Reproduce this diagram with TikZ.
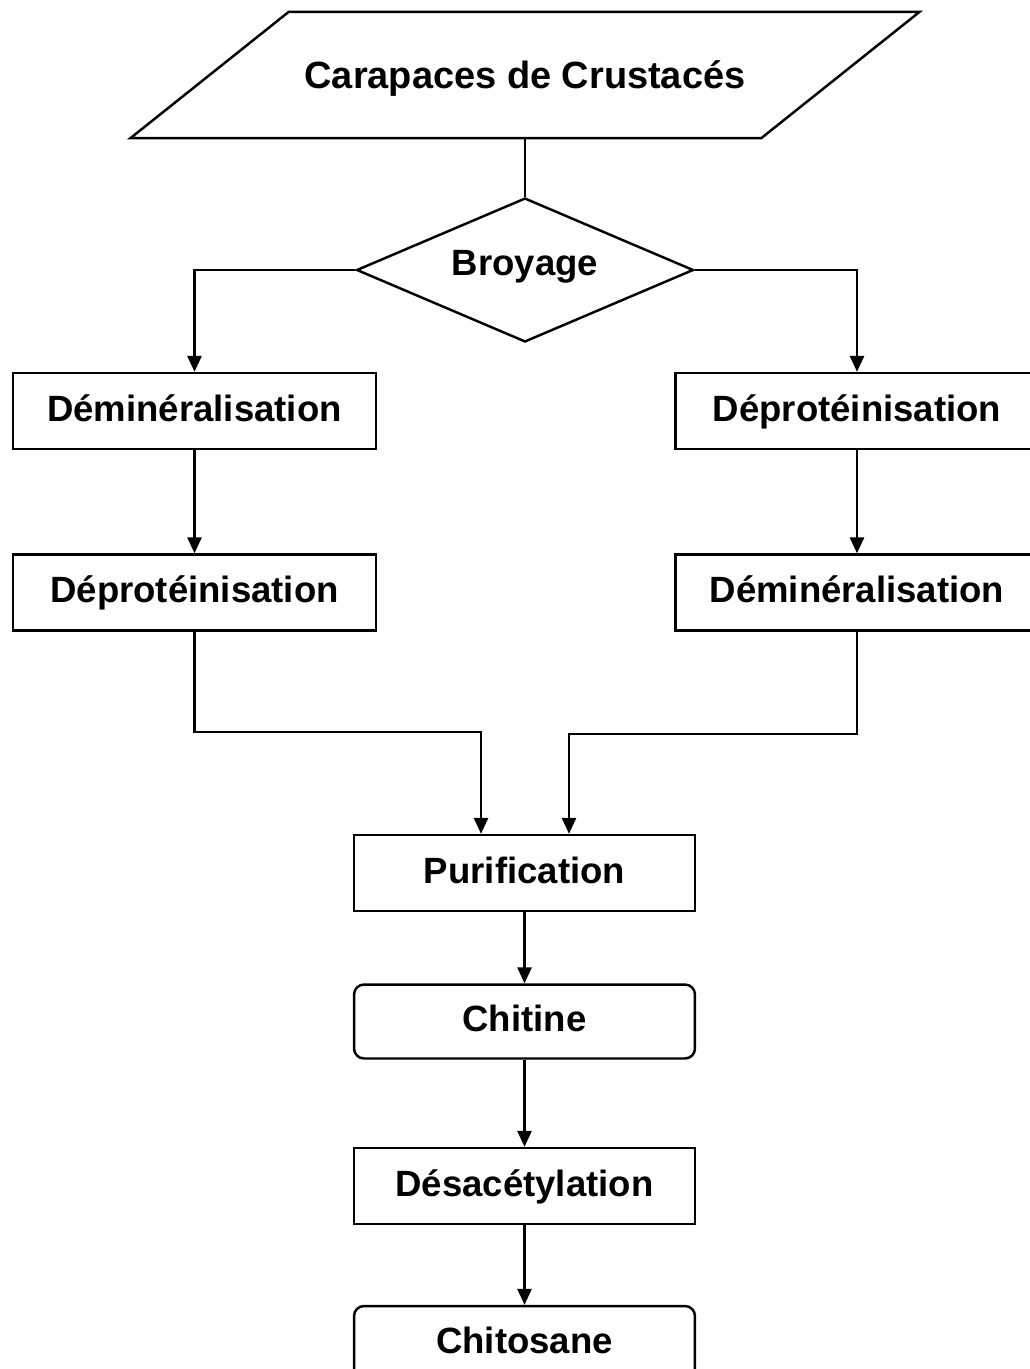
\documentclass[tikz,border=0pt]{standalone}
\usepackage{fontspec}
\setmainfont{Liberation Sans}
\usetikzlibrary{shapes.geometric,arrows.meta}

\begin{document}
\begin{tikzpicture}[x=0.02cm,y=-0.02cm,
    every node/.style={font=\fontsize{20.8}{25}\selectfont\bfseries, line width=1.4pt,
      text height=18pt, text depth=6.5pt},
    stepbox/.style={draw, rectangle, minimum width=7.26cm, minimum height=1.52cm, inner sep=0pt},
    midbox/.style={draw, rectangle, minimum width=6.82cm, minimum height=1.52cm, inner sep=0pt},
    prodbox/.style={midbox, rounded corners=0.2cm, minimum height=1.48cm},
    arr/.style={line width=1.3pt, -{Triangle[length=9pt,width=8pt]}},
    lnk/.style={line width=1.3pt}]
  \useasboundingbox (0,0) rectangle (1029,1369);

  \node[rectangle, minimum width=15.74cm, minimum height=2.48cm, inner sep=0pt,
        text height=20pt, text depth=4.5pt,
        font=\fontsize{21.6}{26}\selectfont\bfseries] (carap) at (525,75) {Carapaces de Crustacés};
  \draw[line width=1.4pt] ([xshift=3.17cm]carap.north west) -- (carap.north east)
    -- ([xshift=-3.17cm]carap.south east) -- (carap.south west) -- cycle;
  \node[draw, diamond, shape aspect=2.34, minimum width=6.74cm, minimum height=2.88cm,
        text height=16pt, text depth=10pt, inner sep=0pt] (broy) at (525,270) {Broyage};

  \node[stepbox] (demA) at (194.5,411) {Déminéralisation};
  \node[stepbox] (depA) at (857,411) {Déprotéinisation};
  \node[stepbox] (depB) at (194.5,592.5) {Déprotéinisation};
  \node[stepbox] (demB) at (857,592.5) {Déminéralisation};

  \node[midbox] (purif) at (524.5,873) {Purification};
  \node[prodbox] (chit) at (524.5,1021.5) {Chitine};
  \node[midbox] (desac) at (524.5,1186) {Désacétylation};
  \node[prodbox] (chitos) at (524.5,1343) {Chitosane};

  \coordinate (inL) at ([xshift=-0.87cm]purif.north);
  \coordinate (inR) at ([xshift=0.89cm]purif.north);

  \draw[lnk] (carap.south) -- (broy.north);
  \draw[arr] (broy.west) -| (demA.north);
  \draw[arr] (broy.east) -| (depA.north);
  \draw[arr] (demA) -- (depB);
  \draw[arr] (depA) -- (demB);
  \draw[arr] (depB.south) -- ++(0,100) -| (inL);
  \draw[arr] (demB.south) -- ++(0,102) -| (inR);
  \draw[arr] (purif) -- (chit);
  \draw[arr] (chit) -- (desac);
  \draw[arr] (desac) -- (chitos);
\end{tikzpicture}
\end{document}
